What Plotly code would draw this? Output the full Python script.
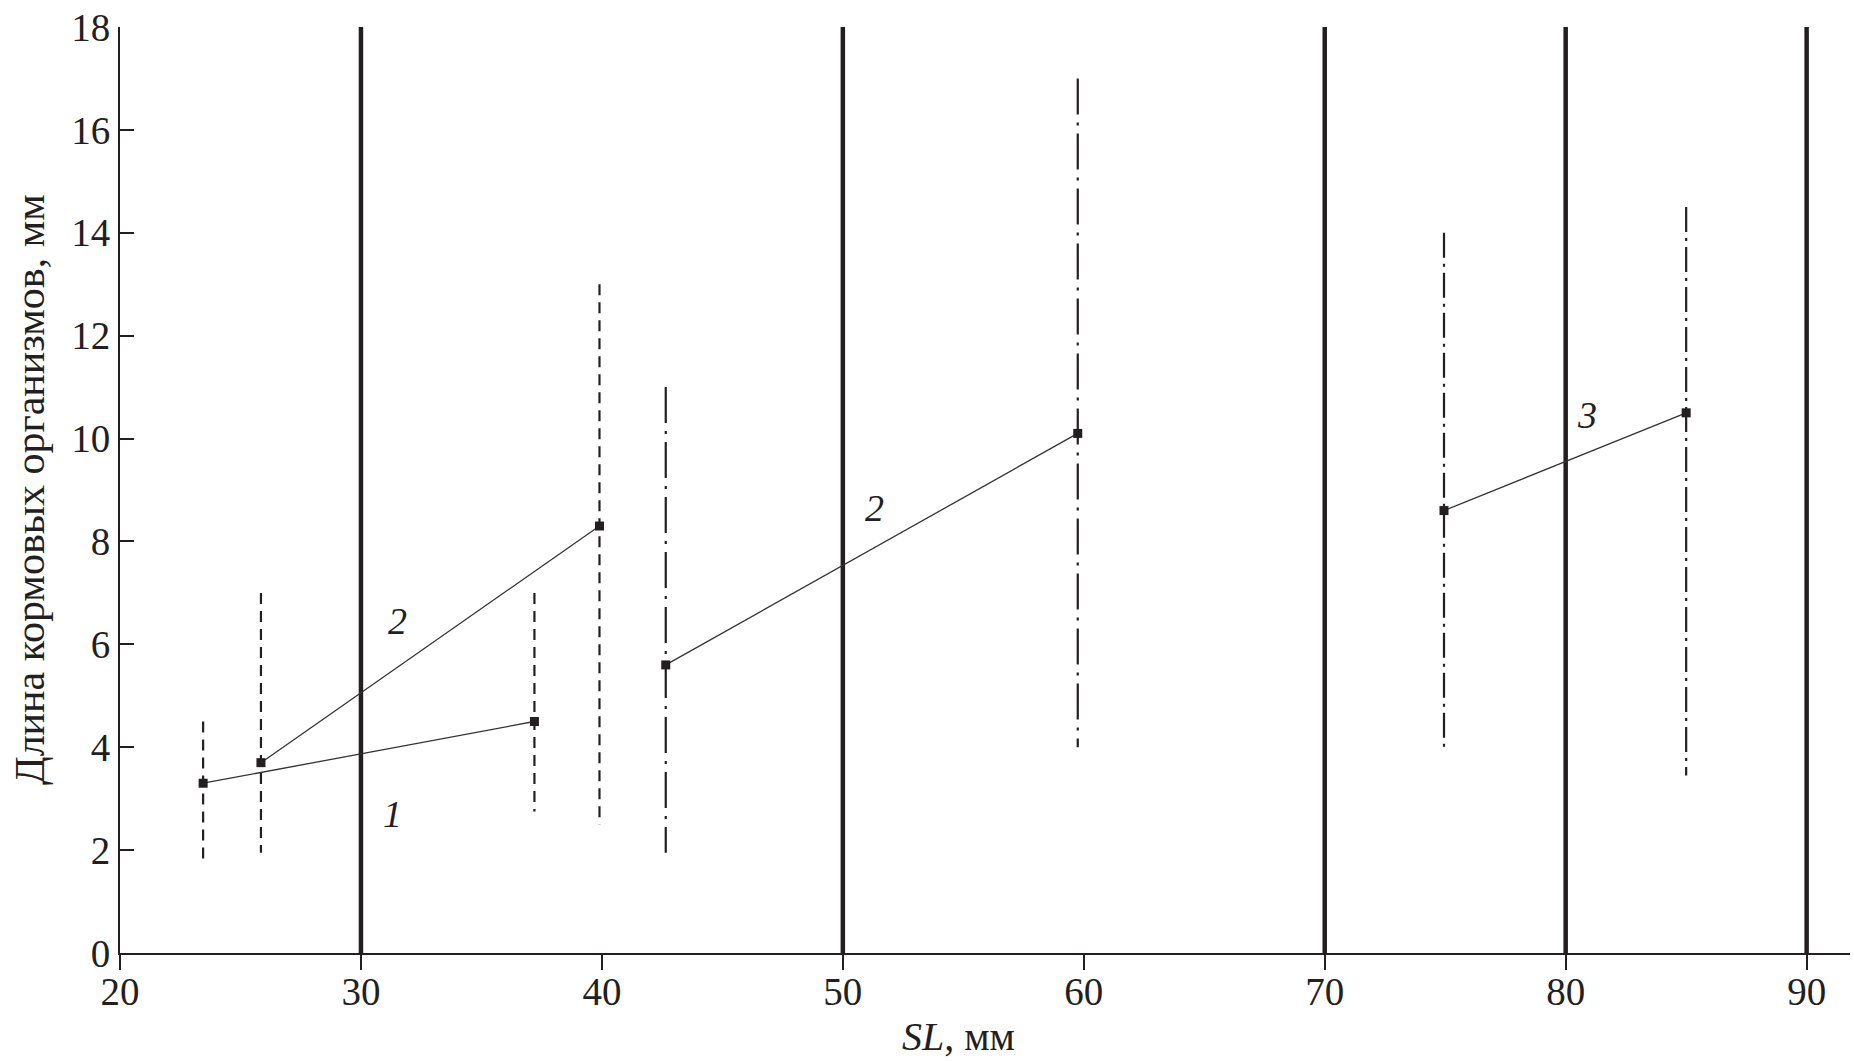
import plotly.graph_objects as go

# ---- data ----
boundaries = [30, 50, 70, 80, 90]          # thick vertical lines (SL, mm)

g1_x = [23.45, 37.2]
g1_y = [3.3, 4.5]
g1_lo = [1.75, 2.75]
g1_hi = [4.5, 7.0]

g2a_x = [25.85, 39.9]
g2a_y = [3.7, 8.3]
g2a_lo = [1.95, 2.5]
g2a_hi = [7.0, 13.0]

g2b_x = [42.65, 59.75]
g2b_y = [5.6, 10.1]
g2b_lo = [1.95, 4.0]
g2b_hi = [11.0, 17.0]

g3_x = [74.95, 85.0]
g3_y = [8.6, 10.5]
g3_lo = [4.0, 3.45]
g3_hi = [14.0, 14.5]

labels_text = ["1", "2", "2", "3"]
labels_x = [31.3, 31.5, 51.3, 80.9]
labels_y = [2.7, 6.45, 8.65, 10.45]

x_ticks = [20, 30, 40, 50, 60, 70, 80, 90]
y_ticks = [0, 2, 4, 6, 8, 10, 12, 14, 16, 18]

x_title = "<i>SL</i>, мм"
y_title = "Длина кормовых организмов, мм"

INK = "#231f20"
FONT = "Liberation Serif, Times New Roman, serif"

fig = go.Figure()

# thick vertical lines
vx, vy = [], []
for b in boundaries:
    vx += [b, b, None]
    vy += [0, 18, None]
fig.add_trace(go.Scatter(x=vx, y=vy, mode="lines",
                         line=dict(color=INK, width=4.5),
                         hoverinfo="skip", showlegend=False))


def add_group(xs, ys, lo, hi, dash):
    ex, ey = [], []
    for x, l, h in zip(xs, lo, hi):
        ex += [x, x, None]
        ey += [h, l, None]
    fig.add_trace(go.Scatter(x=ex, y=ey, mode="lines",
                             line=dict(color=INK, width=2.2, dash=dash),
                             hoverinfo="skip", showlegend=False))
    fig.add_trace(go.Scatter(x=xs, y=ys, mode="lines+markers",
                             line=dict(color="#333333", width=1.3),
                             marker=dict(symbol="square", size=9, color=INK),
                             showlegend=False))


add_group(g1_x, g1_y, g1_lo, g1_hi, "11px,7px")
add_group(g2a_x, g2a_y, g2a_lo, g2a_hi, "11px,7px")
add_group(g2b_x, g2b_y, g2b_lo, g2b_hi, "36px,8px,3px,8px")
add_group(g3_x, g3_y, g3_lo, g3_hi, "25px,6px,3px,6px")

for t, x, y in zip(labels_text, labels_x, labels_y):
    fig.add_annotation(x=x, y=y, text="<i>%s</i>" % t, showarrow=False,
                       font=dict(family=FONT, size=38, color=INK))

# axis titles as paper-anchored annotations
fig.add_annotation(xref="paper", yref="paper", x=0.5, y=0, xshift=-27, yshift=-83,
                   xanchor="center", yanchor="middle", showarrow=False,
                   text=x_title, font=dict(family=FONT, size=40, color=INK))
fig.add_annotation(xref="paper", yref="paper", x=0, y=0.5, xshift=-90, yshift=0,
                   xanchor="center", yanchor="middle", showarrow=False, textangle=-90,
                   text=y_title, font=dict(family=FONT, size=42, color=INK))

fig.update_layout(
    width=1854, height=1061,
    margin=dict(l=120, r=4, t=27, b=108),
    paper_bgcolor="white", plot_bgcolor="white",
    font=dict(family=FONT, color=INK),
    showlegend=False,
)
fig.update_xaxes(
    range=[20, 91.8], tickvals=x_ticks, ticktext=[str(v) for v in x_ticks],
    showgrid=False, zeroline=False,
    showline=True, linecolor=INK, linewidth=2,
    ticks="outside", ticklen=15, tickwidth=2, tickcolor=INK,
    ticklabelstandoff=-12,
    tickfont=dict(family=FONT, size=39, color=INK),
)
fig.update_yaxes(
    range=[0, 18], tickvals=y_ticks, ticktext=[str(v) for v in y_ticks],
    showgrid=False, zeroline=False,
    showline=True, linecolor=INK, linewidth=2,
    ticks="inside", ticklen=14, tickwidth=2, tickcolor=INK,
    tickfont=dict(family=FONT, size=39, color=INK),
)

fig.write_html("out.html", config={"displayModeBar": False},
               post_script="document.body.style.margin='0';")
